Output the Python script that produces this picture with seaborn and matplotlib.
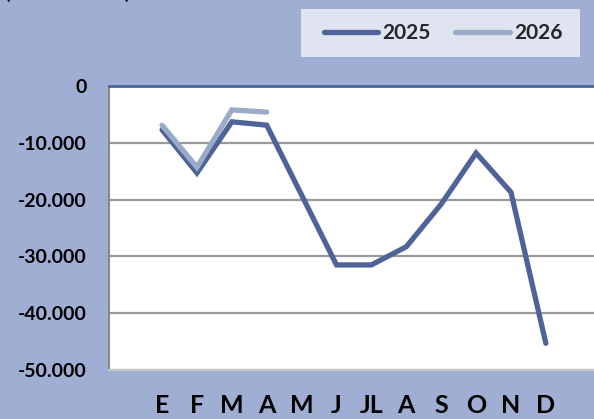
import pandas as pd
import matplotlib
matplotlib.use("Agg")
import matplotlib.pyplot as plt
import seaborn as sns
from matplotlib.patches import Rectangle
from matplotlib.ticker import FuncFormatter

# Chart data
months = ["E", "F", "M", "A", "M", "J", "JL", "A", "S", "O", "N", "D"]
vals_2025 = [-7700, -15300, -6300, -6900, -19200, -31500, -31500, -28300, -20800, -11800, -18700, -45300]
vals_2026 = [-6900, -14300, -4200, -4600]
series_names = ["2025", "2026"]

BG = "#a0aed4"
DARK = "#4f6399"
LIGHT = "#9aabc8"

rows = []
for i, v in enumerate(vals_2025):
    rows.append({"idx": i, "valor": v, "serie": series_names[0]})
for i, v in enumerate(vals_2026):
    rows.append({"idx": i, "valor": v, "serie": series_names[1]})
df = pd.DataFrame(rows)

sns.set_theme(style="white")
plt.rcParams["font.family"] = ["Lato", "DejaVu Sans"]

fig = plt.figure(figsize=(5.94, 4.19), dpi=100, facecolor=BG)
ax = fig.add_axes([109 / 594, 49 / 419, 485 / 594, 284 / 419])
ax.set_facecolor("white")

sns.lineplot(data=df, x="idx", y="valor", hue="serie", hue_order=series_names,
             palette={"2025": DARK, "2026": LIGHT}, linewidth=3.8,
             ax=ax, legend=False, sort=False)
for ln in ax.lines:
    ln.set_solid_capstyle("round")
    ln.set_solid_joinstyle("miter")

ax.set_xlim(-1.52, 12.38)
ax.set_ylim(-50000, 0)
ax.set_yticks(range(-50000, 1, 10000))
ax.yaxis.set_major_formatter(FuncFormatter(lambda v, p: f"{int(v):,}".replace(",", ".")))
ax.set_xticks(range(len(months)))
ax.set_xticklabels(months)
ax.grid(axis="y", color="#9a9a9a", linewidth=1.6)
ax.set_axisbelow(True)
ax.set_xlabel("")
ax.set_ylabel("")
ax.tick_params(axis="y", length=0, pad=16, labelsize=14)
ax.tick_params(axis="x", length=0, pad=17, labelsize=18)
for lab in ax.get_xticklabels() + ax.get_yticklabels():
    lab.set_fontweight("bold")
    lab.set_color("black")

ax.spines["right"].set_visible(False)
ax.spines["top"].set_color(DARK)
ax.spines["top"].set_linewidth(2)
ax.spines["left"].set_color("#8a8a8a")
ax.spines["left"].set_linewidth(1.5)
ax.spines["bottom"].set_color("#c8c8c8")
ax.spines["bottom"].set_linewidth(1.5)

# Legend box in the top right corner (box drawn separately, legend frameless)
fig.patches.append(Rectangle((301 / 594, 1 - 57 / 419), 279 / 594, 48 / 419,
                             transform=fig.transFigure, facecolor="#e0e4f0",
                             edgecolor="none", zorder=0))
handles = [plt.Line2D([], [], color=DARK, lw=3.8, solid_capstyle="round"),
           plt.Line2D([], [], color=LIGHT, lw=3.8, solid_capstyle="round")]
leg = fig.legend(handles, series_names, loc="center",
                 bbox_to_anchor=(443 / 594, 1 - 33 / 419), ncol=2,
                 frameon=False, handlelength=2.6,
                 handletextpad=0.2, columnspacing=1.2, borderpad=0,
                 borderaxespad=0, prop={"weight": "bold", "size": 15})

# Unit label cut off at the top edge
fig.text(5 / 594, 1.0 + 1 / 419, "(millones de €)", ha="left", va="baseline",
         fontsize=14, fontweight="bold", color="black")

fig.savefig("out.png", dpi=100, facecolor=BG)
